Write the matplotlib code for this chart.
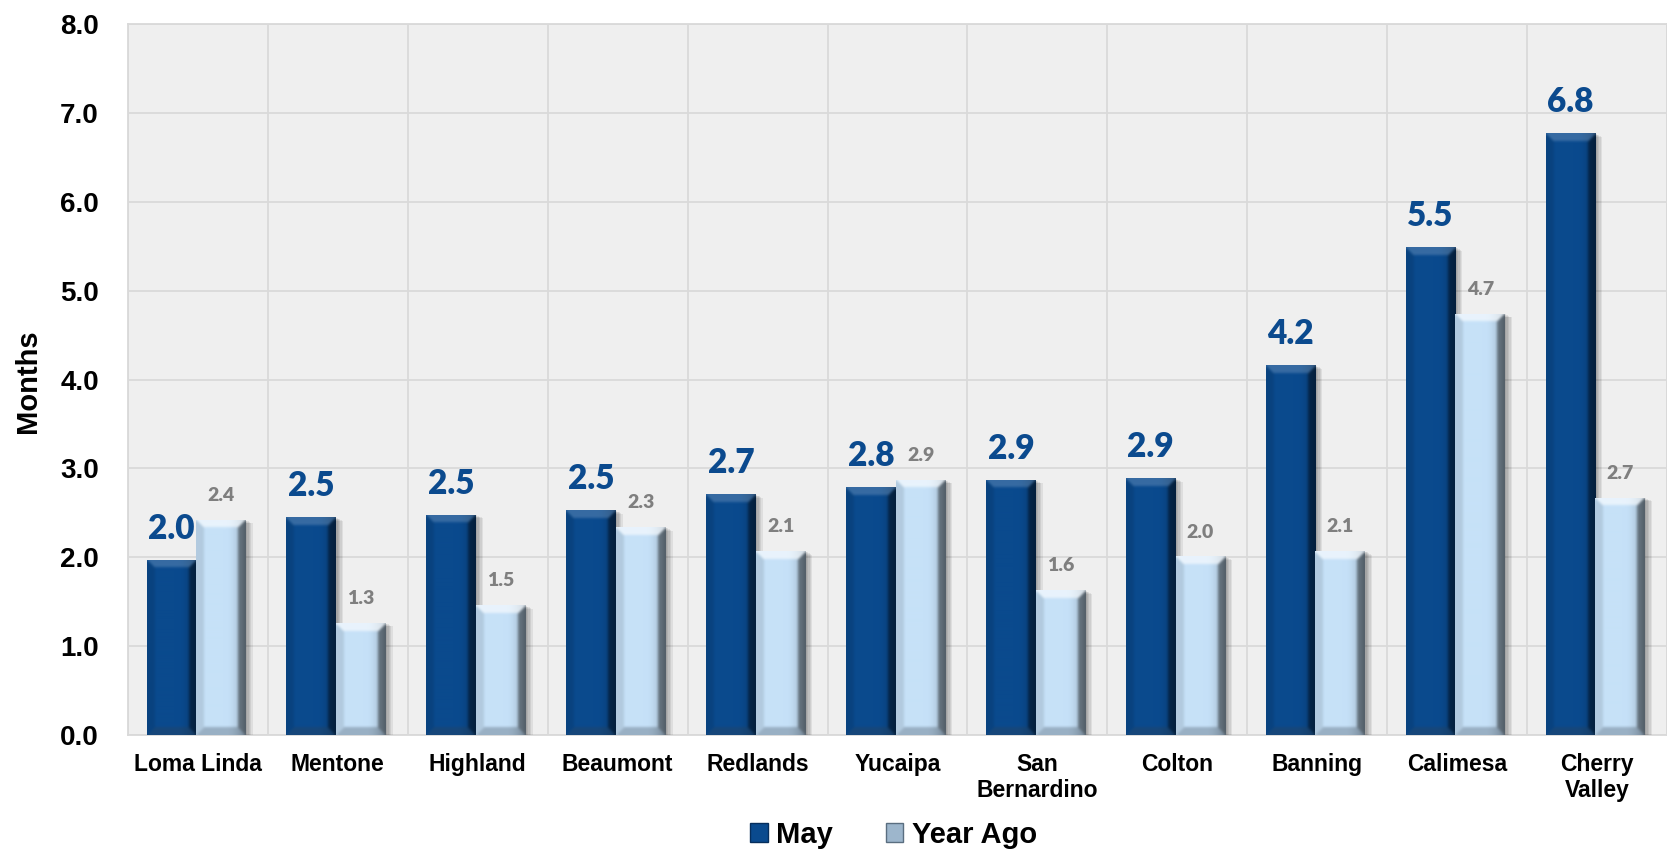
import numpy as np
import matplotlib.pyplot as plt
import matplotlib.patheffects as pe
from matplotlib.colors import to_rgb
from matplotlib.patches import Rectangle

# months of supply by area
areas = ['Loma Linda', 'Mentone', 'Highland', 'Beaumont', 'Redlands', 'Yucaipa',
         'San\nBernardino', 'Colton', 'Banning', 'Calimesa', 'Cherry\nValley']
may = [1.97, 2.45, 2.48, 2.53, 2.71, 2.79, 2.87, 2.89, 4.16, 5.49, 6.77]
year_ago = [2.42, 1.26, 1.46, 2.34, 2.07, 2.87, 1.63, 2.01, 2.07, 4.74, 2.67]
series_names = ['May', 'Year Ago']

MAY_C = '#0A4A8E'
YA_C = '#C6E1F8'
GRID_C = '#D9D9D9'
BG_C = '#EFEFEF'
ARIAL = 'Liberation Sans'
CALIBRI = 'Lato'


def smooth(img, n=2):
    for _ in range(n):
        p = np.pad(img, ((1, 1), (1, 1), (0, 0)), mode='edge')
        img = (p[:-2, :-2] + p[:-2, 1:-1] + p[:-2, 2:] + p[1:-1, :-2] + p[1:-1, 1:-1]
               + p[1:-1, 2:] + p[2:, :-2] + p[2:, 1:-1] + p[2:, 2:]) / 9
    return img


def bevel_image(color, w, h, b=8, light=0.35):
    base = np.array(to_rgb(color))
    yy, xx = np.mgrid[0:h, 0:w]
    dl = xx
    dr = w - 1 - xx
    dt = yy
    db = h - 1 - yy
    img = np.ones((h, w, 3)) * base
    # face darkens toward right edge
    t = xx / max(w - 1, 1)
    dark = np.clip((t - 0.6) / 0.4, 0, 1) ** 2 * 0.3
    img = img * (1 - dark[..., None])

    def blend(mask, target, amt):
        img[mask] = img[mask] * (1 - amt) + np.array(target) * amt

    top = (dt < b) & (dt <= dl) & (dt <= dr)
    right = (dr < b) & (dr < dt) & (dr <= db)
    left = (dl < b) & (dl < dt) & (dl <= db) & ~right
    bottom = (db < b) & (db < dl) & (db < dr)
    blend(top, (1, 1, 1), light)
    blend(right, (0, 0, 0), 0.4)
    blend(left, (0, 0, 0), 0.1)
    blend(bottom, (0.2, 0.25, 0.3), 0.3)
    return np.clip(smooth(img), 0, 1)


fig = plt.figure(figsize=(16.67, 8.52), dpi=100)
ax = fig.add_axes([128 / 1667, 1 - 735 / 852, 1539 / 1667, 711 / 852])
ax.set_facecolor(BG_C)

x = np.arange(len(areas))
w = 0.355
bars_may = ax.bar(x - 0.19, may, w, color=MAY_C, zorder=3)
bars_ya = ax.bar(x + 0.165, year_ago, w, color=YA_C, zorder=3)

ax.set_xlim(-0.5, len(areas) - 0.5)
ax.set_ylim(0, 8)

# soft shadow to the lower right
shadow = [pe.SimplePatchShadow(offset=(k, -k * 0.5), shadow_rgbFace='black', alpha=0.07)
          for k in range(1, 6)] + [pe.Normal()]
for bars, col, lt in [(bars_may, MAY_C, 0.18), (bars_ya, YA_C, 0.6)]:
    for r in bars:
        r.set_path_effects(shadow)
        ext = r.get_window_extent(fig.canvas.get_renderer())
        pw = max(int(round(ext.width)), 2)
        ph = max(int(round(ext.height)), 2)
        img = bevel_image(col, pw, ph, b=8, light=lt)
        x0 = r.get_x()
        im = ax.imshow(img, extent=(x0, x0 + r.get_width(), 0, r.get_height()),
                       aspect='auto', origin='upper', zorder=4, interpolation='bilinear')
        im.set_clip_path(r)

ax.set_xlim(-0.5, len(areas) - 0.5)
ax.set_ylim(0, 8)

# data labels
for r, v in zip(bars_may, may):
    ax.annotate(f'{v:.1f}', (r.get_x() + r.get_width() / 2, v), xytext=(0, 15),
                textcoords='offset points', ha='center', va='baseline',
                fontsize=24, fontweight='heavy', color='#0B4A8E', family=CALIBRI, zorder=6)
for r, v in zip(bars_ya, year_ago):
    ax.annotate(f'{v:.1f}', (r.get_x() + r.get_width() / 2, v), xytext=(0, 13.5),
                textcoords='offset points', ha='center', va='baseline',
                fontsize=14, fontweight='heavy', color='#7F7F7F', family=CALIBRI, zorder=6)

ax.set_yticks(np.arange(0, 9, 1))
ax.set_yticklabels([f'{t:.1f}' for t in np.arange(0, 9, 1)], fontsize=20,
                   fontweight='bold', family=ARIAL)
ax.set_xticks(x)
ax.set_xticklabels(areas, fontsize=16.5, fontweight='bold', family=ARIAL, linespacing=1.15)
ax.set_xticks(np.arange(-0.5, len(areas), 1), minor=True)
ax.tick_params(axis='both', which='both', length=0)
ax.tick_params(axis='y', pad=21)
ax.tick_params(axis='x', pad=13)

ax.grid(axis='y', which='major', color=GRID_C, lw=1.3, zorder=0)
ax.grid(axis='x', which='minor', color=GRID_C, lw=1.3, zorder=0)
ax.set_axisbelow(True)
for s in ['top', 'right', 'left', 'bottom']:
    ax.spines[s].set_color(GRID_C)
    ax.spines[s].set_linewidth(1.3)

ax.set_ylabel('Months', fontsize=21, fontweight='bold', family=ARIAL)
ax.yaxis.set_label_coords(-0.0556, 0.497)

handles = [Rectangle((0, 0), 1, 1, facecolor=MAY_C, edgecolor='#062E5C', lw=1),
           Rectangle((0, 0), 1, 1, facecolor='#9DB6CC', edgecolor='#5A6E80', lw=1)]
fig.legend(handles, series_names, loc='center', bbox_to_anchor=(0.536, 1 - 835 / 852),
           ncol=2, frameon=False, handlelength=0.6, handleheight=0.6,
           handletextpad=0.3, columnspacing=1.8,
           prop={'family': ARIAL, 'weight': 'bold', 'size': 21})

fig.savefig('out.png', dpi=100)
